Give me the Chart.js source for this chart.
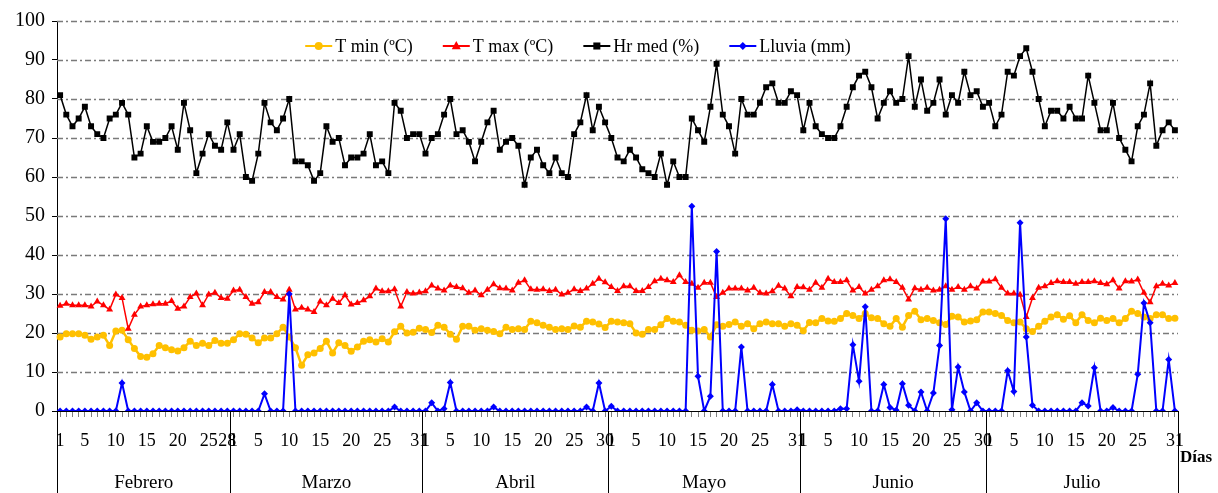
<!DOCTYPE html>
<html>
<head>
<meta charset="utf-8">
<script src="https://cdn.jsdelivr.net/npm/chart.js@4.4.1/dist/chart.umd.min.js"></script>
<style>
  html, body { margin: 0; padding: 0; background: #fff; }
</style>
</head>
<body>
<canvas id="clima" width="1218" height="493"></canvas>
<script>
const meses = ['Febrero', 'Marzo', 'Abril', 'Mayo', 'Junio', 'Julio'];
const diasMes = [28, 31, 30, 31, 30, 31];

// daily values, one line per month (Feb..Jul)
const tMin = [
  19, 19.8, 19.8, 19.8, 19.4, 18.4, 19, 19.4, 16.8, 20.5, 20.7, 18.3, 16, 14, 13.8, 14.7, 16.8, 16.2, 15.7, 15.4, 16.2, 17.9, 16.8, 17.4, 16.8, 18.1, 17.4, 17.4,
  18.3, 19.8, 19.7, 18.7, 17.5, 18.7, 18.7, 19.8, 21.5, 19, 16.2, 11.7, 14.4, 14.9, 16, 17.9, 14.9, 17.5, 16.8, 15.3, 16.4, 17.9, 18.3, 17.7, 18.5, 17.7, 20.3, 21.7, 20, 20.2, 21.2,
  20.9, 20.1, 22, 21.5, 19.7, 18.4, 21.7, 21.7, 20.7, 21.1, 20.7, 20.4, 19.8, 21.5, 20.9, 21.1, 20.9, 23, 22.6, 22, 21.5, 20.9, 21.1, 20.9, 21.8, 21.5, 23, 22.8, 22.3, 21.4,
  23, 22.8, 22.6, 22.4, 20, 19.7, 20.9, 20.9, 22.1, 23.7, 23, 22.8, 22, 20.7, 20.5, 20.9, 19, 22.1, 21.7, 22.2, 22.8, 21.7, 22.4, 21.1, 22.4, 22.8, 22.4, 22.4, 21.7, 22.4, 22,
  20.6, 22.7, 22.6, 23.7, 23.1, 23, 23.7, 25, 24.5, 23.7, 25, 23.9, 23.7, 22.4, 21.7, 23.7, 21.5, 24.5, 25.6, 23.4, 23.7, 23.2, 22.6, 22.2, 24.3, 24.1, 22.8, 23.1, 23.4, 25.4,
  25.4, 25, 24.5, 23.2, 22.6, 22.8, 21.1, 20.4, 21.7, 23, 24.1, 24.7, 23.5, 24.4, 22.6, 24.7, 23.2, 22.6, 23.8, 23.2, 23.7, 22.6, 23.7, 25.6, 25, 24.1, 23.7, 24.7, 24.7, 23.7, 23.8
];

const tMax = [
  27, 27.5, 27.1, 27.1, 27.1, 26.8, 28.1, 27.1, 26, 29.9, 29, 21.1, 24.7, 26.8, 27.1, 27.4, 27.5, 27.5, 28.2, 26.2, 26.8, 29.2, 30.1, 27.1, 29.9, 30.3, 29, 28.8,
  30.9, 31.1, 29.2, 27.5, 27.9, 30.5, 30.5, 29.2, 28.6, 31.1, 26, 26.5, 26, 25.4, 28.1, 27.1, 28.8, 27.7, 29.7, 27.3, 27.7, 28.4, 29.4, 31.4, 30.7, 30.7, 31.2, 26.8, 30.5, 30.1, 30.4,
  30.7, 32.2, 31.4, 30.9, 32.2, 31.8, 31.5, 30.3, 30.9, 29.7, 31.1, 32.5, 31.5, 31.4, 30.9, 32.9, 33.5, 31.2, 31.1, 31.2, 30.8, 31.1, 29.9, 30.3, 31.2, 30.8, 31.4, 32.6, 33.9, 33,
  31.8, 30.8, 32, 32, 30.8, 30.8, 31.8, 33.3, 33.9, 33.5, 33.1, 34.8, 33.1, 32.6, 31.6, 32.9, 32.9, 29.2, 30.3, 31.4, 31.4, 31.4, 30.9, 31.6, 30.3, 30.1, 30.7, 32.1, 31.4, 29.4, 31.8,
  31.7, 31.1, 32.9, 31.6, 33.9, 33.1, 33.1, 33.5, 30.9, 31.8, 30.1, 31.1, 32, 33.5, 33.8, 33.1, 31.6, 28.6, 31.5, 31.1, 31.6, 30.9, 31.1, 32, 31.1, 31.8, 31.1, 32, 31.4, 33.2,
  33.2, 33.8, 31.6, 30.1, 30.1, 29.8, 24.1, 29, 31.6, 32, 32.8, 33.3, 33.1, 33.1, 32.6, 33.1, 33.1, 33.3, 32.8, 32.5, 33.5, 31.4, 33.3, 33.2, 33.7, 30.3, 27.9, 32, 32.6, 32.2, 32.8
];

const hrMed = [
  81, 76, 73, 75, 78, 73, 71, 70, 75, 76, 79, 76, 65, 66, 73, 69, 69, 70, 73, 67, 79, 72, 61, 66, 71, 68, 67, 74,
  67, 71, 60, 59, 66, 79, 74, 72, 75, 80, 64, 64, 63, 59, 61, 73, 69, 70, 63, 65, 65, 66, 71, 63, 64, 61, 79, 77, 70, 71, 71,
  66, 70, 71, 76, 80, 71, 72, 69, 64, 69, 74, 77, 67, 69, 70, 68, 58, 65, 67, 63, 61, 65, 61, 60, 71, 74, 81, 72, 78, 74,
  70, 65, 64, 67, 65, 62, 61, 60, 66, 58, 64, 60, 60, 75, 72, 69, 78, 89, 76, 73, 66, 80, 76, 76, 79, 83, 84, 79, 79, 82, 81,
  72, 79, 73, 71, 70, 70, 73, 78, 83, 86, 87, 83, 75, 79, 82, 79, 80, 91, 78, 85, 77, 79, 85, 76, 81, 79, 87, 81, 82, 78,
  79, 73, 76, 87, 86, 91, 93, 87, 80, 73, 77, 77, 75, 78, 75, 75, 86, 79, 72, 72, 79, 70, 67, 64, 73, 76, 84, 68, 72, 74, 72
];

const lluvia = [
  0, 0, 0, 0, 0, 0, 0, 0, 0, 0, 7.2, 0, 0, 0, 0, 0, 0, 0, 0, 0, 0, 0, 0, 0, 0, 0, 0, 0,
  0, 0, 0, 0, 0, 4.4, 0, 0, 0, 30, 0, 0, 0, 0, 0, 0, 0, 0, 0, 0, 0, 0, 0, 0, 0, 0, 1, 0, 0, 0, 0,
  0, 2.1, 0, 0.6, 7.3, 0, 0, 0, 0, 0, 0, 1, 0, 0, 0, 0, 0, 0, 0, 0, 0, 0, 0, 0, 0, 0, 1, 0, 7.2, 0,
  1.2, 0, 0, 0, 0, 0, 0, 0, 0, 0, 0, 0, 0, 52.5, 8.9, 0, 3.8, 40.9, 0, 0, 0, 16.4, 0, 0, 0, 0, 6.8, 0, 0, 0, 0.3,
  0, 0, 0, 0, 0, 0, 0.6, 0.6, 17, 7.6, 26.7, 0, 0, 6.8, 0.9, 0.2, 7, 1.5, 0, 4.9, 0, 4.6, 16.8, 49.3, 0.3, 11.3, 4.9, 0, 2.1, 0,
  0, 0, 0, 10.3, 5, 48.3, 19, 1.5, 0, 0, 0, 0, 0, 0, 0, 2.1, 1.3, 11.1, 0, 0, 0.9, 0, 0, 0, 9.4, 27.7, 22.6, 0, 0, 13.2, 0
];

// day-of-month labels along the x axis: 1, multiples of 5 and the last day
const dias = [];
const etiquetas = [];
diasMes.forEach(n => {
  for (let d = 1; d <= n; d++) {
    dias.push(String(d));
    const visible = d === 1 || d === n || (d % 5 === 0 && n - d >= 2);
    etiquetas.push(visible ? String(d) : '');
  }
});

const serif = '"Liberation Serif", "Times New Roman", serif';

function drawMarker(ctx, style, x, y, r, color) {
  ctx.save();
  ctx.fillStyle = color;
  ctx.beginPath();
  if (style === 'circle') {
    ctx.arc(x, y, r, 0, Math.PI * 2);
  } else if (style === 'triangle') {
    ctx.moveTo(x, y - r * 1.1);
    ctx.lineTo(x + r, y + r * 0.7);
    ctx.lineTo(x - r, y + r * 0.7);
    ctx.closePath();
  } else if (style === 'rect') {
    ctx.rect(x - r * 0.75, y - r * 0.75, r * 1.5, r * 1.5);
  } else {
    ctx.moveTo(x, y - r);
    ctx.lineTo(x + r, y);
    ctx.lineTo(x, y + r);
    ctx.lineTo(x - r, y);
    ctx.closePath();
  }
  ctx.fill();
  ctx.restore();
}

// dash-dot horizontal grid
const rejilla = {
  id: 'rejilla',
  beforeDatasetsDraw(chart) {
    const { ctx, chartArea, scales } = chart;
    ctx.save();
    ctx.strokeStyle = '#7a7a7a';
    ctx.lineWidth = 1.3;
    ctx.setLineDash([6, 3, 2, 3]);
    for (let v = 10; v <= 100; v += 10) {
      const y = Math.round(scales.y.getPixelForValue(v)) + 0.5;
      ctx.beginPath();
      ctx.moveTo(chartArea.left, y);
      ctx.lineTo(chartArea.right, y);
      ctx.stroke();
    }
    ctx.restore();
  }
};

// month separators, month names, axis title and legend
const extras = {
  id: 'extras',
  afterDraw(chart) {
    const { ctx, chartArea, scales } = chart;
    const x = scales.x;
    const paso = x.getPixelForValue(1) - x.getPixelForValue(0);
    const bottom = chart.height;
    ctx.save();
    ctx.strokeStyle = '#000';
    ctx.lineWidth = 1;
    let inicio = 0;
    const bordes = [];
    diasMes.forEach(n => { bordes.push(x.getPixelForValue(inicio) - paso / 2); inicio += n; });
    bordes.push(x.getPixelForValue(inicio - 1) + paso / 2);
    bordes.forEach(bx => {
      const px = Math.round(bx) + 0.5;
      ctx.beginPath();
      ctx.moveTo(px, chartArea.bottom);
      ctx.lineTo(px, bottom);
      ctx.stroke();
    });
    ctx.fillStyle = '#000';
    ctx.font = '19px ' + serif;
    ctx.textAlign = 'center';
    ctx.textBaseline = 'middle';
    meses.forEach((m, i) => ctx.fillText(m, (bordes[i] + bordes[i + 1]) / 2, 483));

    ctx.font = 'bold 17px ' + serif;
    ctx.textAlign = 'left';
    ctx.fillText('Días', chartArea.right + 2, 458);

    // legend: line segment with marker, then label
    const items = chart.data.datasets.map(ds => ({
      text: ds.label, color: ds.borderColor, style: ds.pointStyle, r: ds.pointRadius
    }));
    ctx.font = '18px ' + serif;
    const anchoSimbolo = 27, hueco = 3, sep = 30;
    let total = 0;
    items.forEach((it, i) => {
      it.w = ctx.measureText(it.text).width;
      total += anchoSimbolo + hueco + it.w + (i < items.length - 1 ? sep : 0);
    });
    let lx = 578 - total / 2;
    const ly = 46;
    items.forEach(it => {
      ctx.strokeStyle = it.color;
      ctx.lineWidth = 2;
      ctx.beginPath();
      ctx.moveTo(lx, ly);
      ctx.lineTo(lx + anchoSimbolo, ly);
      ctx.stroke();
      drawMarker(ctx, it.style, lx + anchoSimbolo / 2, ly, it.r + 0.5, it.color);
      ctx.fillStyle = '#000';
      ctx.fillText(it.text, lx + anchoSimbolo + hueco, ly + 1);
      lx += anchoSimbolo + hueco + it.w + sep;
    });
    ctx.restore();
  }
};

new Chart(document.getElementById('clima'), {
  type: 'line',
  data: {
    labels: dias,
    datasets: [
      {
        label: 'T min (ºC)', data: tMin, borderColor: '#FFC000', backgroundColor: '#FFC000',
        borderWidth: 2.5, pointStyle: 'circle', pointRadius: 3.5, pointBorderWidth: 0, order: 3
      },
      {
        label: 'T max (ºC)', data: tMax, borderColor: '#FF0000', backgroundColor: '#FF0000',
        borderWidth: 1.5, pointStyle: 'triangle', pointRadius: 4, pointBorderWidth: 0, order: 2
      },
      {
        label: 'Hr med (%)', data: hrMed, borderColor: '#000000', backgroundColor: '#000000',
        borderWidth: 1.5, pointStyle: 'rect', pointRadius: 4.2, pointBorderWidth: 0, order: 1
      },
      {
        label: 'Lluvia (mm)', data: lluvia, borderColor: '#0000FF', backgroundColor: '#0000FF',
        borderWidth: 2, pointStyle: 'rectRot', pointRadius: 3.5, pointBorderWidth: 0, order: 0
      }
    ]
  },
  options: {
    responsive: false,
    animation: false,
    layout: { padding: { top: 21, right: 40, left: 0, bottom: 0 } },
    plugins: {
      legend: { display: false },
      tooltip: { enabled: false }
    },
    scales: {
      x: {
        type: 'category',
        offset: true,
        afterFit(scale) { scale.height = 82; },
        border: { display: true, color: '#000', width: 1 },
        grid: {
          display: true, drawOnChartArea: false, drawTicks: true,
          tickLength: 6, tickColor: '#808080', offset: false
        },
        ticks: {
          autoSkip: false, maxRotation: 0, minRotation: 0, padding: 13,
          color: '#000', font: { family: serif, size: 18 },
          callback: (v, i) => etiquetas[i]
        }
      },
      y: {
        min: 0, max: 100,
        afterFit(scale) { scale.width = 57; },
        border: { display: true, color: '#000', width: 1 },
        grid: { drawOnChartArea: false, drawTicks: true, tickLength: 5, color: '#000' },
        ticks: { stepSize: 10, padding: 7, color: '#000', font: { family: serif, size: 20 } }
      }
    }
  },
  plugins: [rejilla, extras]
});
</script>
</body>
</html>
